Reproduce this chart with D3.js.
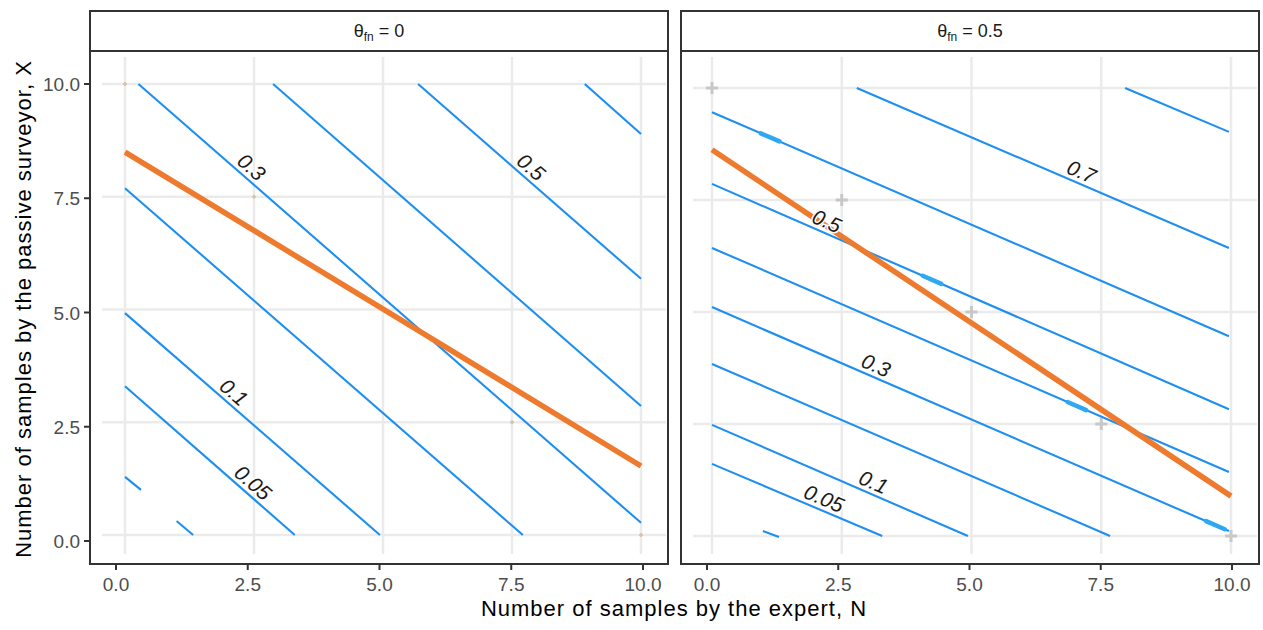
<!DOCTYPE html>
<html lang="en">
<head>
<meta charset="UTF-8">
<title>Contours by facet</title>
<script src="https://d3js.org/d3.v7.min.js"></script>
<style>
  body { margin: 0; background: #fff; }
  svg { display: block; font-family: Arial, "Liberation Sans", sans-serif; }
</style>
</head>
<body>
<script>
// facet values of theta_fn
var facetValues = ["0", "0.5"];

// tick values (same on both axes)
var tickValues = [0, 2.5, 5, 7.5, 10];

// contour lines of the left panel (theta_fn = 0), ends in data units [N, X]
var contoursLeft = [
  {level: null,   pts: [[0, 1.29], [0.31, 1.0]]},
  {level: null,   pts: [[1.0, 0.31], [1.32, 0]]},
  {level: "0.05", pts: [[0, 3.30], [3.29, 0]], labelN: 2.33},
  {level: "0.1",  pts: [[0, 4.92], [4.94, 0]], labelN: 1.96},
  {level: null,   pts: [[0, 7.69], [7.71, 0]]},
  {level: "0.3",  pts: [[0.26, 10], [10, 0.27]], labelN: 2.30},
  {level: null,   pts: [[2.87, 10], [10, 2.86]]},
  {level: "0.5",  pts: [[5.68, 10], [10, 5.68]], labelN: 7.72},
  {level: null,   pts: [[8.91, 10], [10, 8.89]]}
];

// contour lines of the right panel (theta_fn = 0.5)
var contoursRight = [
  {level: null,   pts: [[0.98, 0.11], [1.29, -0.02]]},
  {level: "0.05", pts: [[0, 1.61], [3.28, 0]], labelN: 2.07},
  {level: "0.1",  pts: [[0, 2.48], [4.93, 0]], labelN: 3.02},
  {level: null,   pts: [[0, 3.84], [7.67, 0]]},
  {level: "0.3",  pts: [[0, 5.11], [9.96, 0.11]], labelN: 3.07},
  {level: null,   pts: [[0, 6.43], [9.96, 1.43]]},
  {level: "0.5",  pts: [[0, 7.86], [9.96, 2.83]], labelN: 2.12},
  {level: null,   pts: [[0, 9.46], [9.96, 4.46]]},
  {level: "0.7",  pts: [[2.79, 10], [9.96, 6.43]], labelN: 7.03},
  {level: null,   pts: [[7.96, 10], [9.96, 9.02]]}
];

// orange optimum lines
var optimumLeft = [[0, 8.49], [10, 1.53]];
var optimumRight = [[0, 8.62], [10, 0.89]];

// faint marks along N + X = 10
var marksLeft = [[0, 10], [2.5, 7.5], [7.5, 2.5], [10, 0]];
var marksRight = [[0, 10], [2.5, 7.5], [5, 5], [7.5, 2.5], [10, 0]];

// thicker bits on right contour lines: [line index, N]
var blobsRight = [[7, 1.12], [6, 4.24], [5, 7.03], [4, 9.7]];

var width = 1263, height = 630;
var stripTop = 11, stripBottom = 51, panelBottom = 564;
var blue = "#1E8FF0", orange = "#EE7A2E";

var panels = [
  {L: 90,  R: 668,  facet: facetValues[0], lines: contoursLeft,  opt: optimumLeft,  marks: marksLeft,  blobs: [],
   dataX: [125, 641], dataY: [535, 84], axisX: [116, 643], showY: true},
  {L: 681, R: 1259, facet: facetValues[1], lines: contoursRight, opt: optimumRight, marks: marksRight, blobs: blobsRight,
   dataX: [712, 1231], dataY: [536, 88], axisX: [707, 1232], showY: false}
];

var axisY = d3.scaleLinear().domain([0, 10]).range([541, 84]);

var svg = d3.select("body").append("svg")
  .attr("width", width)
  .attr("height", height);

var fmt = d3.format(".1f");

panels.forEach(function(p) {
  var x = d3.scaleLinear().domain([0, 10]).range(p.dataX);
  var y = d3.scaleLinear().domain([0, 10]).range(p.dataY);
  var ax = d3.scaleLinear().domain([0, 10]).range(p.axisX);
  var g = svg.append("g");

  // strip
  g.append("rect")
    .attr("x", p.L).attr("y", stripTop)
    .attr("width", p.R - p.L).attr("height", stripBottom - stripTop)
    .attr("fill", "#fff").attr("stroke", "#333").attr("stroke-width", 2);
  var st = g.append("text")
    .attr("x", (p.L + p.R) / 2).attr("y", 37)
    .attr("text-anchor", "middle")
    .attr("font-size", 18).attr("fill", "#1a1a1a");
  st.append("tspan").text("\u03B8");
  st.append("tspan").attr("font-size", 12).attr("dy", 4).text("fn");
  st.append("tspan").attr("dy", -4).text(" = " + p.facet);

  // grid
  var clip = "clip" + p.L;
  g.append("clipPath").attr("id", clip).append("rect")
    .attr("x", p.L).attr("y", stripBottom)
    .attr("width", p.R - p.L).attr("height", panelBottom - stripBottom);
  var inner = g.append("g").attr("clip-path", "url(#" + clip + ")");

  inner.selectAll(".vg").data(tickValues).enter().append("line")
    .attr("x1", function(d) { return x(d); }).attr("x2", function(d) { return x(d); })
    .attr("y1", stripBottom + 6).attr("y2", panelBottom - 10)
    .attr("stroke", "#ebebeb").attr("stroke-width", 2.5);
  inner.selectAll(".hg").data(tickValues).enter().append("line")
    .attr("y1", function(d) { return y(d); }).attr("y2", function(d) { return y(d); })
    .attr("x1", p.L + 12).attr("x2", p.R - 2)
    .attr("stroke", "#ebebeb").attr("stroke-width", 2.5);

  // faint marks
  inner.selectAll(".mk").data(p.marks).enter().append("path")
    .attr("d", function(d) {
      var cx = x(d[0]), cy = y(d[1]), s = p.showY ? 2 : 6;
      return "M" + (cx - s) + "," + cy + "H" + (cx + s) + "M" + cx + "," + (cy - s) + "V" + (cy + s);
    })
    .attr("stroke", p.showY ? "#d8c7b0" : "#c8c8c8")
    .attr("stroke-width", p.showY ? 2 : 3);

  var line = d3.line().x(function(d) { return x(d[0]); }).y(function(d) { return y(d[1]); });

  // contour lines
  inner.selectAll(".ct").data(p.lines).enter().append("path")
    .attr("d", function(d) { return line(d.pts); })
    .attr("fill", "none").attr("stroke", blue).attr("stroke-width", 2.1);

  // thick bits
  inner.selectAll(".bl").data(p.blobs).enter().append("path")
    .attr("d", function(d) {
      var pts = p.lines[d[0]].pts;
      var f = d3.interpolate(pts[0], pts[1]);
      var span = pts[1][0] - pts[0][0];
      var a = f((d[1] - 0.18 - pts[0][0]) / span).slice();
      var b = f((d[1] + 0.18 - pts[0][0]) / span).slice();
      return line([a, b]);
    })
    .attr("fill", "none").attr("stroke", "#2fa8f2").attr("stroke-width", 4.5)
    .attr("stroke-linecap", "round");

  // optimum line
  inner.append("path")
    .attr("d", line(p.opt))
    .attr("fill", "none").attr("stroke", orange).attr("stroke-width", 5.5);

  // contour labels
  inner.selectAll(".lb").data(p.lines.filter(function(d) { return d.level; })).enter().append("text")
    .attr("transform", function(d) {
      var a = d.pts[0], b = d.pts[1];
      var dx = x(b[0]) - x(a[0]), dy = y(b[1]) - y(a[1]);
      var len = Math.sqrt(dx * dx + dy * dy);
      var t = (d.labelN - a[0]) / (b[0] - a[0]);
      var fx = x(a[0]) + t * dx, fy = y(a[1]) + t * dy;
      var cx = fx + 12 * dy / len, cy = fy - 12 * dx / len;
      var ang = Math.atan2(dy, dx) * 180 / Math.PI;
      return "translate(" + cx + "," + cy + ") rotate(" + ang + ")";
    })
    .attr("text-anchor", "middle").attr("dominant-baseline", "central")
    .attr("font-size", 21).attr("font-style", "italic").attr("fill", "#1a1a1a")
    .attr("stroke", "#fff").attr("stroke-width", 3).attr("paint-order", "stroke")
    .text(function(d) { return d.level; });

  // panel border
  g.append("rect")
    .attr("x", p.L).attr("y", stripBottom)
    .attr("width", p.R - p.L).attr("height", panelBottom - stripBottom)
    .attr("fill", "none").attr("stroke", "#333").attr("stroke-width", 2);

  // x axis
  g.selectAll(".xt").data(tickValues).enter().append("line")
    .attr("x1", function(d) { return ax(d); }).attr("x2", function(d) { return ax(d); })
    .attr("y1", panelBottom).attr("y2", panelBottom + 6)
    .attr("stroke", "#333").attr("stroke-width", 2);
  g.selectAll(".xl").data(tickValues).enter().append("text")
    .attr("x", function(d) { return ax(d); }).attr("y", 591)
    .attr("text-anchor", "middle").attr("font-size", 19).attr("fill", "#4d4d4d")
    .text(function(d) { return fmt(d); });

  // y axis
  if (p.showY) {
    g.selectAll(".yt").data(tickValues).enter().append("line")
      .attr("y1", function(d) { return axisY(d); }).attr("y2", function(d) { return axisY(d); })
      .attr("x1", p.L - 6).attr("x2", p.L)
      .attr("stroke", "#333").attr("stroke-width", 2);
    g.selectAll(".yl").data(tickValues).enter().append("text")
      .attr("y", function(d) { return axisY(d) + 7; }).attr("x", p.L - 10)
      .attr("text-anchor", "end").attr("font-size", 19).attr("fill", "#4d4d4d")
      .text(function(d) { return fmt(d); });
  }
});

// axis titles
svg.append("text")
  .attr("x", 674).attr("y", 616)
  .attr("text-anchor", "middle").attr("font-size", 22).attr("letter-spacing", 1).attr("fill", "#000")
  .text("Number of samples by the expert, N");
svg.append("text")
  .attr("transform", "translate(31,309) rotate(-90)")
  .attr("text-anchor", "middle").attr("font-size", 22).attr("letter-spacing", 1).attr("fill", "#000")
  .text("Number of samples by the passive surveyor, X");
</script>
</body>
</html>
